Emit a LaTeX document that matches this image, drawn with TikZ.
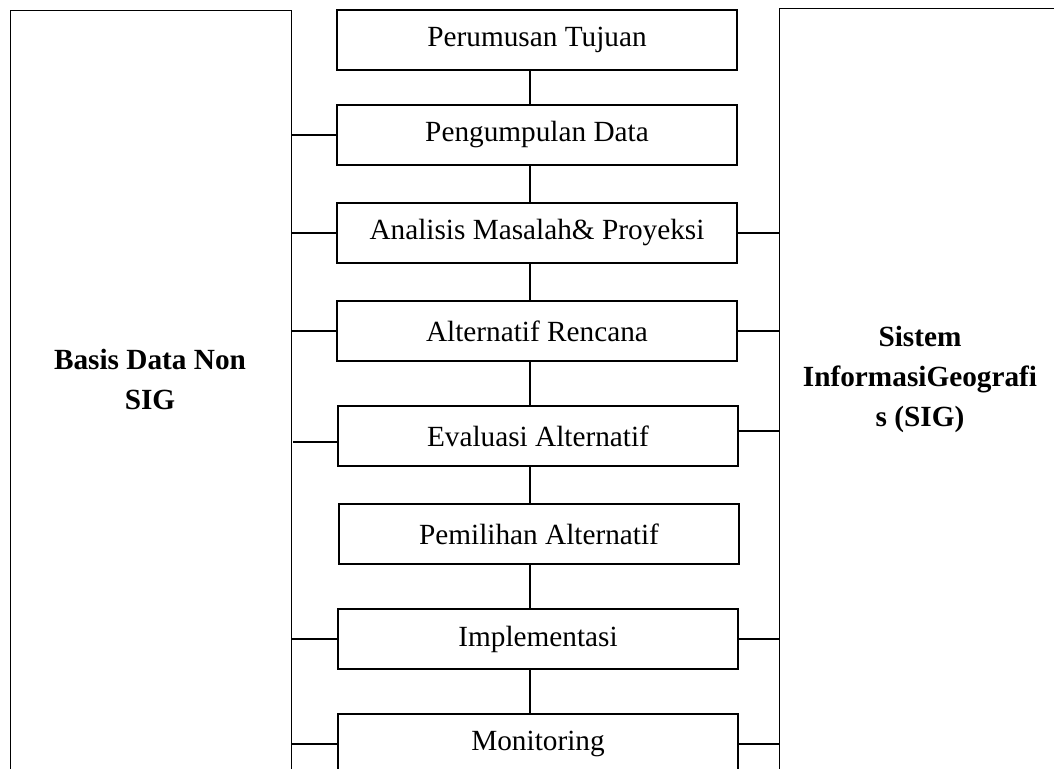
\documentclass[tikz,border=0pt]{standalone}
\usepackage{fontspec}
\setmainfont{Liberation Serif}
\usepackage{tikz}

\tikzset{
  tahap/.style={draw, minimum width=164pt, minimum height=24.6pt, inner sep=0pt,
    font=\fontsize{12}{14}\selectfont},
  panel/.style={draw, anchor=north west, minimum width=115.2pt, minimum height=330pt, inner sep=0pt},
  judul/.style={align=center, font=\bfseries\fontsize{12}{16.4}\selectfont}
}

\begin{document}
\begin{tikzpicture}[x=0.41pt,y=-0.41pt,line width=0.6pt]
\useasboundingbox (0,0) rectangle (1054,769);
\clip (0,0) rectangle (1054,769);

\node[panel] (kiri) at (10,10) {};
\node[panel, minimum width=123pt] (kanan) at (779,8) {};
\node[judul] (nonsig) at (150,379) {Basis Data Non\\SIG};
\node[judul] (sig) at (920,379) {Sistem\\InformasiGeografi\\s (SIG)};

\node[tahap] (a) at (537,40) {Perumusan Tujuan};
\node[tahap] (b) at (537,135) {Pengumpulan Data};
\node[tahap] (c) at (537,233) {Analisis Masalah\& Proyeksi};
\node[tahap] (d) at (537,331) {Alternatif Rencana};
\node[tahap] (e) at (538,436) {Evaluasi Alternatif};
\node[tahap] (f) at (539,534) {Pemilihan Alternatif};
\node[tahap] (g) at (538,639) {Implementasi};
\node[tahap] (h) at (538,744) {Monitoring};

\draw ([xshift=-2.9pt]a.south) -- ([xshift=-2.9pt]a.south |- b.north)
      ([xshift=-2.9pt]b.south) -- ([xshift=-2.9pt]b.south |- c.north)
      ([xshift=-2.9pt]c.south) -- ([xshift=-2.9pt]c.south |- d.north)
      ([xshift=-2.9pt]d.south) -- ([xshift=-2.9pt]d.south |- e.north)
      ([xshift=-3.3pt]e.south) -- ([xshift=-3.3pt]e.south |- f.north)
      ([xshift=-3.7pt]f.south) -- ([xshift=-3.7pt]f.south |- g.north)
      ([xshift=-3.3pt]g.south) -- ([xshift=-3.3pt]g.south |- h.north);

\draw (b.west) -- (b.west -| kiri.east)
      (c.west) -- (c.west -| kiri.east)
      (d.west) -- (d.west -| kiri.east)
      ([yshift=-2.5pt]e.west) -- ++(-44,0)
      (g.west) -- (g.west -| kiri.east)
      (h.west) -- (h.west -| kiri.east);

\draw (c.east) -- (c.east -| kanan.west)
      (d.east) -- (d.east -| kanan.west)
      ([yshift=2pt]e.east) coordinate (e2) -- (e2 -| kanan.west)
      (g.east) -- (g.east -| kanan.west)
      (h.east) -- (h.east -| kanan.west);
\end{tikzpicture}
\end{document}
